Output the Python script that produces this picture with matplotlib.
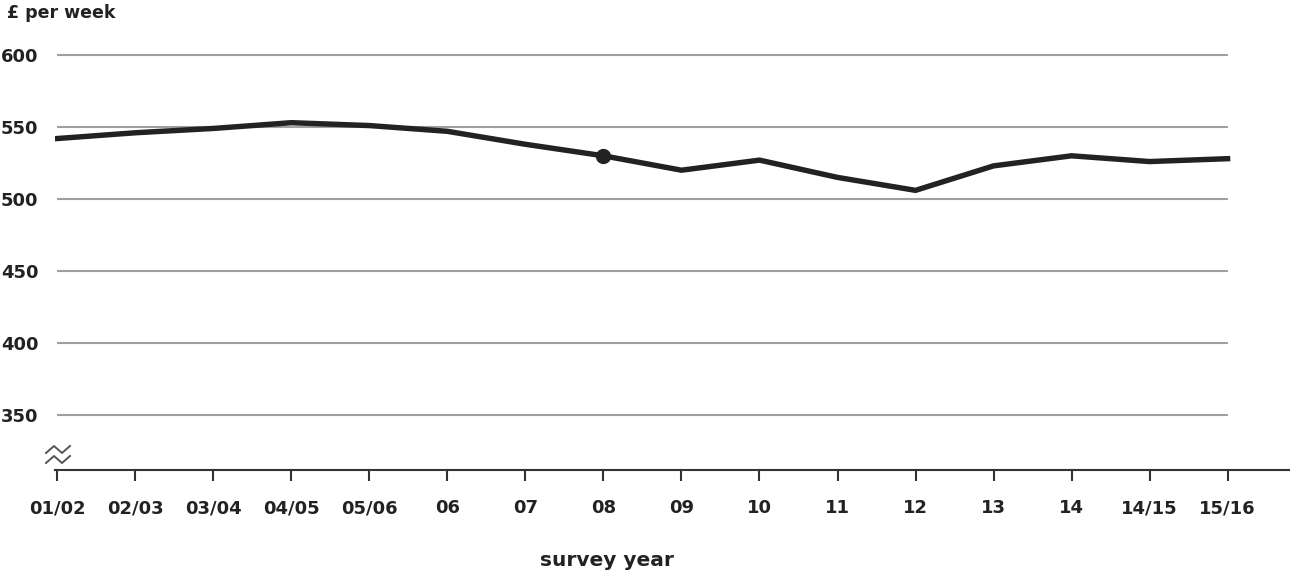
import matplotlib
matplotlib.use("Agg")
import matplotlib.pyplot as plt
import numpy as np

years = ["01/02", "02/03", "03/04", "04/05", "05/06", "06", "07", "08",
         "09", "10", "11", "12", "13", "14", "14/15", "15/16"]
income = [542, 546, 549, 553, 551, 547, 538, 530,
          520, 527, 515, 506, 523, 530, 526, 528]
marker_year = "08"
yticks = [350, 400, 450, 500, 550, 600]

plt.rcParams['font.family'] = ['DejaVu Sans']

W, H = 1290, 574
fig = plt.figure(figsize=(W / 100, H / 100), dpi=100)
ax = fig.add_axes([55 / W, 1 - 470 / H, 1 - 55 / W, 470 / H])

x = np.arange(len(years))
ax.set_xlim(-0.03, 15.8)
ax.set_ylim(311.8, 638.2)

for v in yticks:
    ax.plot([0, len(years) - 1], [v, v], color="#a0a0a0", lw=1.5, zorder=1,
            solid_capstyle="butt")

ax.plot(x, income, color="#222222", lw=3.9, zorder=3, solid_joinstyle="round")
mi = years.index(marker_year)
ax.plot([x[mi]], [income[mi]], "o", color="#222222", ms=10, zorder=4)

for s in ["top", "right", "left"]:
    ax.spines[s].set_visible(False)
ax.spines["bottom"].set_color("#333333")
ax.spines["bottom"].set_linewidth(1.5)

tick_font = dict(fontsize=13, fontweight="bold", color="#222222")
ax.set_xticks(x)
ax.set_xticklabels(years, **tick_font)
ax.tick_params(axis="x", direction="out", length=8, width=1.5, color="#333333", pad=13)
ax.set_yticks(yticks)
ax.set_yticklabels([str(v) for v in yticks], **tick_font)
ax.tick_params(axis="y", length=0, pad=12)

# axis break symbol (pixel-based zigzags)
zz = np.array([[-12, -3], [-4, 4], [4, -3], [12, 4]], dtype=float)
base_px_x, base_px_y = 58, 574 - 455
for dy in (5, -5):
    px = base_px_x + zz[:, 0]
    py = base_px_y + zz[:, 1] + dy
    fig.lines.append(plt.Line2D(px / W, py / H, transform=fig.transFigure,
                                color="#555555", lw=1.4))

fig.text(7 / W, 1 - 13 / H, "£ per week", fontsize=12.5, fontweight="bold",
         color="#222222", va="center", ha="left")
fig.text(607 / W, 1 - 561 / H, "survey year", fontsize=14.5, fontweight="bold",
         color="#222222", va="center", ha="center")

fig.savefig("out.png", dpi=100)
